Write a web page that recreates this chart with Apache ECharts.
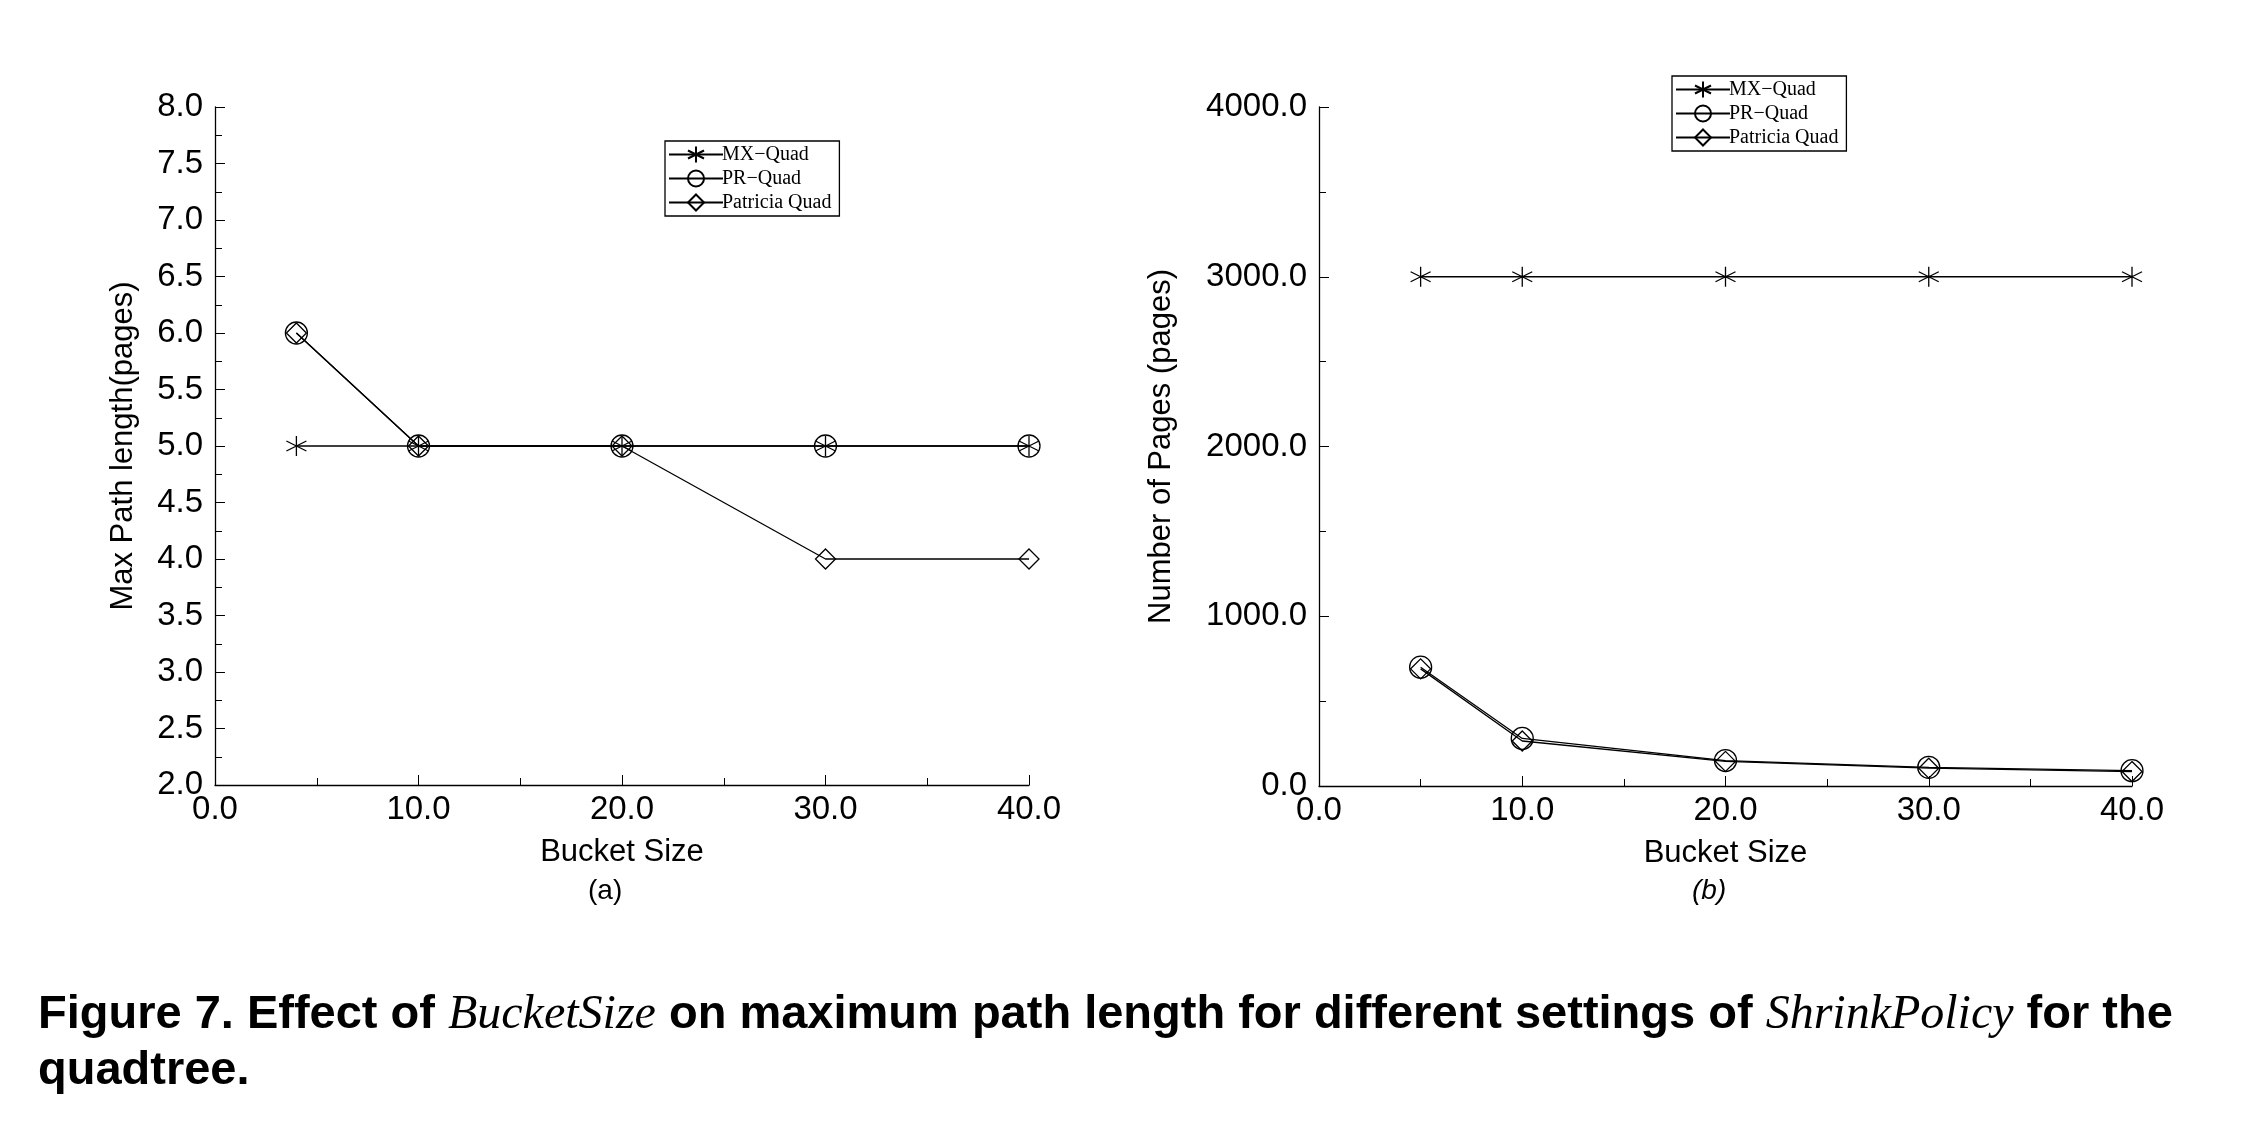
<!DOCTYPE html>
<html>
<head>
<meta charset="utf-8">
<script src="https://cdn.jsdelivr.net/npm/echarts@6/dist/echarts.min.js"></script>
<style>html,body{margin:0;background:#fff}</style>
</head>
<body>
<div id="main" style="width:2260px;height:1148px;"></div>
<script>
var chart = echarts.init(document.getElementById('main'));

// chart (a): max path length
var sizesA = [4, 10, 20, 30, 40];
var mxA = [5, 5, 5, 5, 5];
var prA = [6, 5, 5, 5, 5];
var patA = [6, 5, 5, 4, 4];
// chart (b): number of pages
var sizesB = [5, 10, 20, 30, 40];
var mxB = [3000, 3000, 3000, 3000, 3000];
var prB = [700, 280, 150, 110, 90];
var patB = [690, 265, 145, 105, 85];
var names = ['MX\u2212Quad', 'PR\u2212Quad', 'Patricia Quad'];

var starSym = 'path://M0,-10L0,10M-8.7,-5L8.7,5M-8.7,5L8.7,-5';
var diamondSym = 'path://M0,-10L10,0L0,10L-10,0Z';
var symbols = [starSym, 'circle', diamondSym];
var sizes = [20, 22, 20];

function pts(xs, ys) { return xs.map(function (x, i) { return [x, ys[i]]; }); }

function mkSeries(idx, xs, ys, k) {
  return {
    name: names[k], type: 'line', xAxisIndex: idx, yAxisIndex: idx,
    data: pts(xs, ys), symbol: symbols[k], symbolSize: sizes[k],
    showAllSymbol: true, animation: false,
    lineStyle: { color: '#000', width: 1.3 },
    itemStyle: { color: 'none', borderColor: '#000', borderWidth: 1.3 }
  };
}

var tickFont = { fontFamily: 'Liberation Sans', fontSize: 33, color: '#000' };
var nameFont = { fontFamily: 'Liberation Sans', fontSize: 31, color: '#000' };
function xAx(gi) {
  return {
    gridIndex: gi, type: 'value', min: 0, max: 40, interval: 10,
    name: 'Bucket Size', nameLocation: 'middle', nameGap: 52,
    nameTextStyle: nameFont,
    axisLine: { lineStyle: { color: '#000', width: 1.3 } },
    axisTick: { inside: true, length: 10, lineStyle: { color: '#000' } },
    minorTick: { show: true, splitNumber: 2, length: 7, lineStyle: { color: '#000' } },
    splitLine: { show: false },
    axisLabel: Object.assign({ margin: 8, formatter: function (v) { return v.toFixed(1); } }, tickFont)
  };
}
function yAx(gi, min, max, itv, name, minorSplit) {
  return {
    gridIndex: gi, type: 'value', min: min, max: max, interval: itv,
    name: name, nameLocation: 'middle', nameGap: gi === 0 ? 76 : 142, nameRotate: 90,
    nameTextStyle: nameFont,
    axisLine: { show: true, lineStyle: { color: '#000', width: 1.3 } },
    axisTick: { inside: true, length: 10, lineStyle: { color: '#000' } },
    minorTick: { show: true, splitNumber: minorSplit, length: 7, lineStyle: { color: '#000' } },
    splitLine: { show: false },
    axisLabel: Object.assign({ margin: 12, formatter: function (v) { return v.toFixed(1); } }, tickFont)
  };
}
function legend(left, top) {
  return {
    left: left, top: top, orient: 'vertical', itemGap: 3, itemWidth: 54, itemHeight: 20,
    padding: [3, 8, 3, 3], borderColor: '#000', borderWidth: 1.3,
    textStyle: { fontFamily: 'Liberation Serif', fontSize: 20, color: '#000', padding: [0, 0, 0, -6] }
  };
}

var series = [];
[mxA, prA, patA].forEach(function (d, k) { series.push(mkSeries(0, sizesA, d, k)); });
[mxB, prB, patB].forEach(function (d, k) { series.push(mkSeries(1, sizesB, d, k)); });

var l1 = legend(665, 141); l1.data = names; l1.seriesIndex = [0, 1, 2];
var l2 = legend(1672, 76); l2.data = names; l2.seriesIndex = [3, 4, 5];

chart.setOption({
  backgroundColor: '#fff',
  animation: false,
  grid: [
    { left: 215, top: 107, width: 814, height: 678 },
    { left: 1319, top: 107, width: 813, height: 679 }
  ],
  xAxis: [xAx(0), xAx(1)],
  yAxis: [yAx(0, 2, 8, 0.5, 'Max Path length(pages)', 2), yAx(1, 0, 4000, 1000, 'Number of Pages (pages)', 2)],
  legend: [l1, l2],
  series: series,
  graphic: [
    { type: 'text', left: 588, top: 877, style: { text: '(a)', font: '28px "Liberation Sans"', fill: '#000' } },
    { type: 'text', left: 1692, top: 877, style: { text: '(b)', font: 'italic 28px "Liberation Sans"', fill: '#000' } },
    { type: 'text', left: 38, top: 991, style: {
        text: '{b|Figure 7. Effect of }{i|BucketSize}{b| on maximum path length for different settings of }{i|ShrinkPolicy}{b| for the}\n{b|quadtree.}',
        rich: {
          b: { font: 'bold 47px "Liberation Sans"', fill: '#000', lineHeight: 56 },
          i: { font: 'italic 48px "Liberation Serif"', fill: '#000', lineHeight: 56 }
        }
    } }
  ]
});
</script>
</body>
</html>
